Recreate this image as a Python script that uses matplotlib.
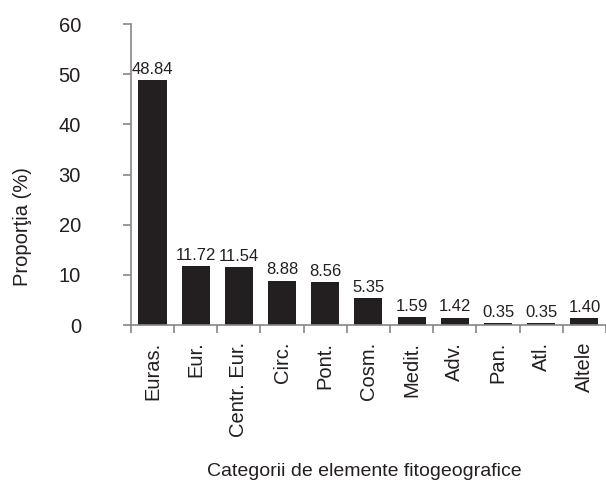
import matplotlib
matplotlib.use("Agg")
import matplotlib.pyplot as plt
from matplotlib.ticker import FixedLocator, MultipleLocator

categories = ["Euras.", "Eur.", "Centr. Eur.", "Circ.", "Pont.", "Cosm.",
              "Medit.", "Adv.", "Pan.", "Atl.", "Altele"]
values = [48.84, 11.72, 11.54, 8.88, 8.56, 5.35, 1.59, 1.42, 0.35, 0.35, 1.40]
value_labels = ["48.84", "11.72", "11.54", "8.88", "8.56", "5.35",
                "1.59", "1.42", "0.35", "0.35", "1.40"]

plt.rcParams['font.family'] = ['Liberation Sans', 'DejaVu Sans']

W, H = 606, 483
fig = plt.figure(figsize=(W / 100, H / 100), dpi=100)
ax = fig.add_axes([0.216, 0.327, 0.784, 0.623])

x = list(range(len(categories)))
text_color = "#231f20"
bar_color = "#231f20"
spine_color = "#868686"
ax.bar(x, values, width=0.65, color=bar_color, zorder=2)

for xi, v, lab in zip(x, values, value_labels):
    ax.annotate(lab, (xi, v), xytext=(0, 2.5), textcoords="offset points",
                ha="center", va="bottom", fontsize=12, color=text_color)

ax.set_xlim(-0.5, len(categories) - 0.5)
ax.set_ylim(0, 60)
ax.yaxis.set_major_locator(MultipleLocator(10))

ax.set_xticks(x)
ax.set_xticklabels(categories, rotation=90, fontsize=14.5, color=text_color)
ax.xaxis.set_minor_locator(FixedLocator([i - 0.5 for i in range(len(categories) + 1)]))
ax.tick_params(axis="x", which="major", length=0, pad=12)
ax.tick_params(axis="x", which="minor", length=6, width=1.2, color=spine_color, direction="out")
ax.tick_params(axis="y", which="major", length=6, width=1.2, color=spine_color,
               labelsize=14.5, labelcolor=text_color, pad=30)

for s in ["top", "right"]:
    ax.spines[s].set_visible(False)
for s in ["left", "bottom"]:
    ax.spines[s].set_color(spine_color)
    ax.spines[s].set_linewidth(1.2)

fig.text(23 / W, 1 - 227 / H, "Proporţia (%)", rotation=90, ha="center", va="center",
         fontsize=14.5, color=text_color)
fig.text(364 / W, 1 - 471 / H, "Categorii de elemente fitogeografice", ha="center",
         va="center", fontsize=14, color=text_color)

fig.savefig("out.png", dpi=100)
